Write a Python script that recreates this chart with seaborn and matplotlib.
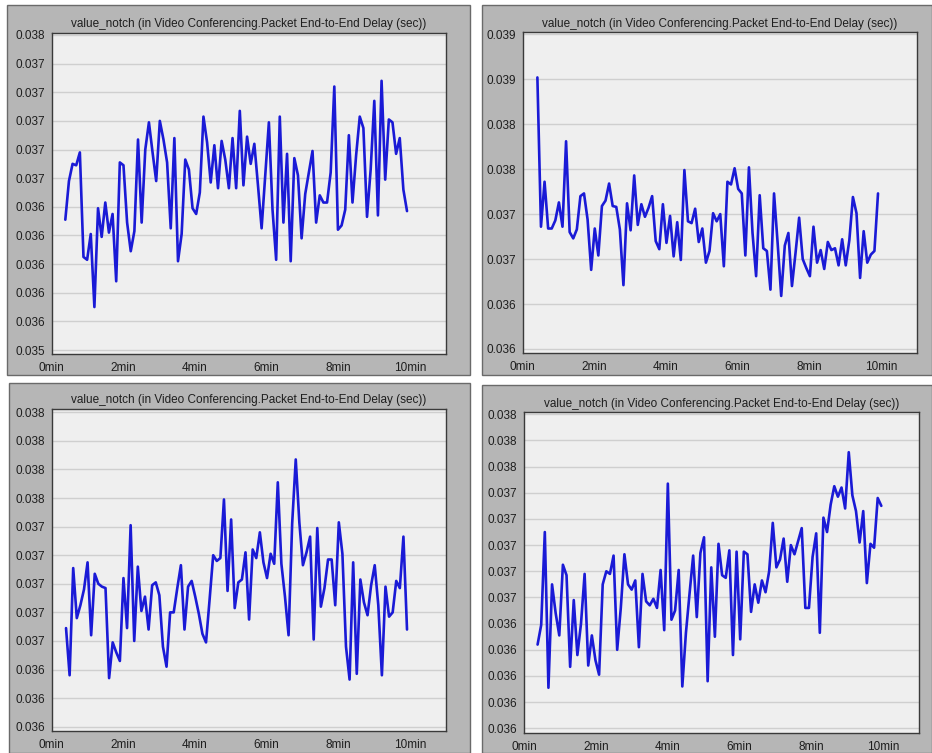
import numpy as np
import pandas as pd
import matplotlib
matplotlib.use("Agg")
import matplotlib.pyplot as plt
from matplotlib.patches import Rectangle
import seaborn as sns

sns.set_style("white")
plt.rcParams['font.family'] = ['Liberation Sans', 'DejaVu Sans']

TITLE = "value_notch (in Video Conferencing.Packet End-to-End Delay (sec))"
x_ticks = [0, 2, 4, 6, 8, 10]
x_tick_labels = ["0min", "2min", "4min", "6min", "8min", "10min"]

# ---- Panel 1 (top-left) ----
p1_delay = [0.03631, 0.03658, 0.03670, 0.03669, 0.03678, 0.03605, 0.03603, 0.03621, 0.03570, 0.03639,
            0.03619, 0.03643, 0.03622, 0.03635, 0.03588, 0.03671, 0.03669, 0.03629, 0.03609, 0.03623,
            0.03687, 0.03629, 0.03680, 0.03699, 0.03678, 0.03658, 0.03700, 0.03687, 0.03671, 0.03625,
            0.03688, 0.03602, 0.03621, 0.03673, 0.03666, 0.03639, 0.03635, 0.03650, 0.03703, 0.03685,
            0.03657, 0.03683, 0.03653, 0.03686, 0.03673, 0.03653, 0.03688, 0.03653, 0.03707, 0.03655,
            0.03689, 0.03670, 0.03684, 0.03655, 0.03625, 0.03662, 0.03699, 0.03638, 0.03603, 0.03703,
            0.03629, 0.03677, 0.03602, 0.03674, 0.03662, 0.03618, 0.03649, 0.03664, 0.03679, 0.03629,
            0.03648, 0.03643, 0.03643, 0.03664, 0.03724, 0.03624, 0.03627, 0.03638, 0.03690, 0.03643,
            0.03676, 0.03703, 0.03695, 0.03633, 0.03666, 0.03714, 0.03634, 0.03728, 0.03659, 0.03701,
            0.03699, 0.03677, 0.03688, 0.03652, 0.03637]
p1_start, p1_end = 0.38, 9.92
p1_yticks = [0.0354, 0.0356, 0.0358, 0.0360, 0.0362, 0.0364, 0.0366, 0.0368, 0.0370, 0.0372, 0.0374, 0.0376]
p1_ylabels = ["0.035", "0.036", "0.036", "0.036", "0.036", "0.036", "0.037", "0.037", "0.037", "0.037", "0.037", "0.038"]
p1_ylim = (0.03537, 0.037616)

# ---- Panel 2 (top-right) ----
p2_delay = [0.03882, 0.03716, 0.03766, 0.03714, 0.03714, 0.03723, 0.03743, 0.03716, 0.03811, 0.03710,
            0.03703, 0.03713, 0.03750, 0.03753, 0.03724, 0.03668, 0.03714, 0.03684, 0.03739, 0.03745,
            0.03764, 0.03739, 0.03738, 0.03713, 0.03651, 0.03742, 0.03712, 0.03773, 0.03718, 0.03741,
            0.03727, 0.03737, 0.03750, 0.03700, 0.03691, 0.03741, 0.03698, 0.03728, 0.03683, 0.03721,
            0.03679, 0.03779, 0.03722, 0.03720, 0.03736, 0.03699, 0.03714, 0.03676, 0.03689, 0.03731,
            0.03722, 0.03730, 0.03672, 0.03766, 0.03763, 0.03781, 0.03758, 0.03753, 0.03684, 0.03782,
            0.03709, 0.03661, 0.03751, 0.03692, 0.03689, 0.03646, 0.03753, 0.03698, 0.03639, 0.03695,
            0.03709, 0.03650, 0.03687, 0.03726, 0.03680, 0.03670, 0.03661, 0.03716, 0.03676, 0.03690,
            0.03669, 0.03699, 0.03690, 0.03692, 0.03673, 0.03702, 0.03673, 0.03701, 0.03749, 0.03731,
            0.03659, 0.03711, 0.03676, 0.03685, 0.03689, 0.03753]
p2_start, p2_end = 0.41, 9.92
p2_yticks = [0.0358, 0.0363, 0.0368, 0.0373, 0.0378, 0.0383, 0.0388, 0.0393]
p2_ylabels = ["0.036", "0.036", "0.037", "0.037", "0.038", "0.038", "0.039", "0.039"]
p2_ylim = (0.035752, 0.039322)

# ---- Panel 3 (bottom-left) ----
p3_delay = [0.03659, 0.03626, 0.03701, 0.03666, 0.03675, 0.03686, 0.03705, 0.03654, 0.03697, 0.03690,
            0.03688, 0.03687, 0.03624, 0.03649, 0.03642, 0.03636, 0.03694, 0.03659, 0.03731, 0.03650,
            0.03702, 0.03671, 0.03681, 0.03658, 0.03689, 0.03691, 0.03682, 0.03646, 0.03632, 0.03670,
            0.03670, 0.03687, 0.03703, 0.03658, 0.03688, 0.03692, 0.03681, 0.03669, 0.03655, 0.03649,
            0.03679, 0.03710, 0.03706, 0.03708, 0.03749, 0.03685, 0.03735, 0.03673, 0.03691, 0.03693,
            0.03712, 0.03665, 0.03714, 0.03708, 0.03726, 0.03705, 0.03694, 0.03711, 0.03704, 0.03761,
            0.03704, 0.03681, 0.03654, 0.03732, 0.03777, 0.03733, 0.03703, 0.03712, 0.03723, 0.03651,
            0.03729, 0.03674, 0.03687, 0.03707, 0.03707, 0.03675, 0.03733, 0.03711, 0.03646, 0.03623,
            0.03705, 0.03627, 0.03693, 0.03677, 0.03668, 0.03689, 0.03703, 0.03675, 0.03626, 0.03688,
            0.03667, 0.03670, 0.03692, 0.03687, 0.03723, 0.03658]
p3_start, p3_end = 0.40, 9.92
p3_yticks = [0.0359, 0.0361, 0.0363, 0.0365, 0.0367, 0.0369, 0.0371, 0.0373, 0.0375, 0.0377, 0.0379, 0.0381]
p3_ylabels = ["0.036", "0.036", "0.036", "0.037", "0.037", "0.037", "0.037", "0.037", "0.038", "0.038", "0.038", "0.038"]
p3_ylim = (0.03587, 0.038123)

# ---- Panel 4 (bottom-right) ----
p4_delay = [0.03624, 0.03639, 0.03710, 0.03591, 0.03670, 0.03648, 0.03631, 0.03685, 0.03677, 0.03607,
            0.03658, 0.03616, 0.03640, 0.03678, 0.03608, 0.03631, 0.03612, 0.03601, 0.03670, 0.03680,
            0.03678, 0.03692, 0.03620, 0.03652, 0.03693, 0.03670, 0.03666, 0.03673, 0.03622, 0.03678,
            0.03657, 0.03654, 0.03659, 0.03652, 0.03681, 0.03635, 0.03747, 0.03643, 0.03650, 0.03681,
            0.03592, 0.03633, 0.03663, 0.03692, 0.03645, 0.03694, 0.03706, 0.03596, 0.03683, 0.03630,
            0.03701, 0.03677, 0.03675, 0.03696, 0.03616, 0.03695, 0.03628, 0.03695, 0.03693, 0.03649,
            0.03670, 0.03656, 0.03673, 0.03664, 0.03680, 0.03717, 0.03683, 0.03689, 0.03705, 0.03672,
            0.03700, 0.03693, 0.03703, 0.03713, 0.03652, 0.03652, 0.03691, 0.03709, 0.03633, 0.03721,
            0.03710, 0.03731, 0.03745, 0.03737, 0.03744, 0.03728, 0.03771, 0.03738, 0.03726, 0.03702,
            0.03726, 0.03671, 0.03701, 0.03698, 0.03736, 0.03730]
p4_start, p4_end = 0.37, 9.95
p4_yticks = [0.0356, 0.0358, 0.0360, 0.0362, 0.0364, 0.0366, 0.0368, 0.0370, 0.0372, 0.0374, 0.0376, 0.0378, 0.0380]
p4_ylabels = ["0.036", "0.036", "0.036", "0.036", "0.036", "0.037", "0.037", "0.037", "0.037", "0.037", "0.038", "0.038", "0.038"]
p4_ylim = (0.035562, 0.038015)

W, H = 932, 753
fig = plt.figure(figsize=(W / 100, H / 100), dpi=100)
fig.patch.set_facecolor("white")

FRAME = "#b6b6b6"
PLOTBG = "#efefef"
GRID = "#cfcfcf"
LINE = "#1a1ad6"
TXT = "#1e1e1e"

# background axis covering the whole figure for the grey panel frames
bg = fig.add_axes([0, 0, 1, 1], zorder=-10)
bg.set_xlim(0, W)
bg.set_ylim(H, 0)
bg.axis("off")


def frame(x0, y0, x1, y1):
    bg.add_patch(Rectangle((x0, y0), x1 - x0, y1 - y0, facecolor=FRAME,
                           edgecolor="#6a6a6a", linewidth=1.0))


def panel(rect_px, delay, start, end, yticks, ylabels, ylim):
    l, t, r, b = rect_px
    ax = fig.add_axes([l / W, 1 - b / H, (r - l) / W, (b - t) / H], zorder=5)
    ax.set_facecolor(PLOTBG)
    df = pd.DataFrame({"minutes": np.linspace(start, end, len(delay)), "delay": delay})
    sns.lineplot(data=df, x="minutes", y="delay", ax=ax, color=LINE, linewidth=1.9, zorder=3)
    ax.set_xlim(0, 11)
    ax.set_ylim(*ylim)
    ax.set_yticks(yticks)
    ax.set_yticklabels(ylabels)
    ax.set_xticks(x_ticks)
    ax.set_xticklabels(x_tick_labels)
    ax.set_xlabel("")
    ax.set_ylabel("")
    ax.yaxis.grid(True, color=GRID, linewidth=1.0, zorder=1)
    ax.xaxis.grid(False)
    ax.set_axisbelow(True)
    ax.tick_params(axis="both", which="major", direction="out", length=4, width=0.8,
                   color="#303030", labelsize=8.5, labelcolor=TXT, pad=1.5)
    ax.tick_params(axis="y", pad=1)
    for s in ax.spines.values():
        s.set_visible(True)
        s.set_color("#3a3a3a")
        s.set_linewidth(1.0)
    ax.text(0.5, 1 + 8.5 / (b - t), TITLE, transform=ax.transAxes, ha="center", va="center",
            fontsize=8.5, color=TXT)
    return ax


frame(7, 5, 470, 375)
frame(482, 5, 932, 375)
frame(9, 383, 470, 753)
frame(482, 385, 932, 753)

panel((51.7, 32.7, 445.7, 354.3), p1_delay, p1_start, p1_end, p1_yticks, p1_ylabels, p1_ylim)
panel((522.7, 32.3, 916.7, 353.3), p2_delay, p2_start, p2_end, p2_yticks, p2_ylabels, p2_ylim)
panel((51.7, 409, 445.7, 731), p3_delay, p3_start, p3_end, p3_yticks, p3_ylabels, p3_ylim)
panel((524.3, 412.3, 919, 733.3), p4_delay, p4_start, p4_end, p4_yticks, p4_ylabels, p4_ylim)

fig.savefig("out.png", dpi=100, facecolor="white")
